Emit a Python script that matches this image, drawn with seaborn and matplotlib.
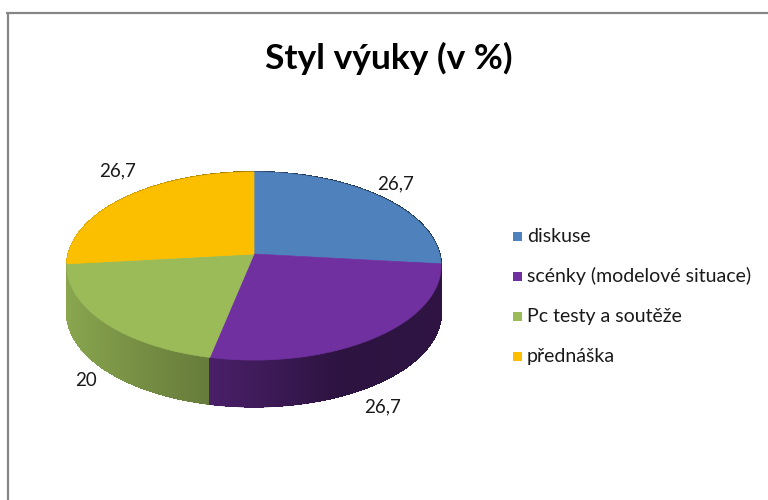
import numpy as np
import matplotlib
matplotlib.use("Agg")
import matplotlib.pyplot as plt
import seaborn as sns
from matplotlib.collections import PolyCollection
from matplotlib.patches import Polygon, Rectangle
from matplotlib.colors import to_rgb

# data
categories = ["diskuse", "scénky (modelové situace)", "Pc testy a soutěže", "přednáška"]
values = [26.7, 26.7, 20, 26.7]
value_labels = ["26,7", "26,7", "20", "26,7"]
colors = ["#4F81BD", "#7030A0", "#9BBB59", "#FCBF00"]
title = "Styl výuky (v %)"

sns.set_theme(style="white")
plt.rcParams["font.family"] = ["Lato", "DejaVu Sans"]

# pie geometry in pixel space
cx, cy = 254, 254
A, B, K = 185.5, 92.5, 0.128   # radii and perspective factor
depth = 47


def project(theta, r=1.0):
    # theta: clockwise angle from 12 o'clock, radians
    u = r * np.sin(theta)
    v = -r * np.cos(theta)
    den = 1 - K * v
    return cx + A * u / den, cy + B * v / den, u, v


def side_shade(u):
    return np.interp(u, [-1, -0.24, 0.4, 1], [0.9, 0.67, 0.4, 0.42])


fig = plt.figure(figsize=(7.68, 5.0), dpi=100)
ax = fig.add_axes([0, 0, 1, 1])
ax.set_xlim(0, 768)
ax.set_ylim(500, 0)
ax.axis("off")

# chart frame
ax.plot([6, 768], [12.5, 12.5], color="#868686", lw=1.6, solid_capstyle="butt")
ax.plot([7.5, 7.5], [12, 500], color="#868686", lw=1.6, solid_capstyle="butt")

fracs = np.array(values) / np.sum(values)
edges = np.concatenate([[0], np.cumsum(fracs)]) * 2 * np.pi

# sides: smooth underlay per slice, then gradient strips on top
slice_order = np.argsort([-np.cos((edges[i] + edges[i + 1]) / 2) for i in range(len(values))])
for i in slice_order:
    th = np.linspace(edges[i], edges[i + 1], 200)
    x, y, u, v = project(th)
    base = np.array(to_rgb(colors[i]))
    vis = v > -0.2
    um = u[vis].mean() if vis.any() else u.mean()
    top = list(zip(x, y))
    bot = list(zip(x[::-1], y[::-1] + depth))
    col = np.clip(base * side_shade(um), 0, 1)
    ax.add_patch(Polygon(top + bot, closed=True, facecolor=col, edgecolor=col, lw=0.5))

quads, qcols, qkeys = [], [], []
for i in range(len(values)):
    th = np.linspace(edges[i], edges[i + 1], 200)
    x, y, u, v = project(th)
    base = np.array(to_rgb(colors[i]))
    for j in range(len(th) - 1):
        q = [(x[j], y[j]), (x[j + 1], y[j + 1]),
             (x[j + 1], y[j + 1] + depth - 0.5), (x[j], y[j] + depth - 0.5)]
        quads.append(q)
        qcols.append(np.clip(base * side_shade((u[j] + u[j + 1]) / 2), 0, 1))
        qkeys.append((v[j] + v[j + 1]) / 2)
order = np.argsort(qkeys)
pc = PolyCollection([quads[k] for k in order], facecolors=[qcols[k] for k in order],
                    edgecolors=[qcols[k] for k in order], linewidths=0.8, antialiased=False)
ax.add_collection(pc)

# top faces
for i in range(len(values)):
    th = np.linspace(edges[i], edges[i + 1], 200)
    x, y, _, _ = project(th)
    pts = [(cx, cy)] + list(zip(x, y))
    ax.add_patch(Polygon(pts, closed=True, facecolor=colors[i], edgecolor=colors[i], lw=0.5))

# data labels
label_offsets = [(15, -13), (7, 22), (-17, 12), (-9, -26)]
for i in range(len(values)):
    mid = (edges[i] + edges[i + 1]) / 2
    x, y, u, v = project(mid)
    if v > K:
        y = y + depth
    dx, dy = label_offsets[i]
    ax.text(x + dx, y + dy, value_labels[i], ha="center", va="center",
            fontsize=13.5, color="#1a1a1a")

# legend
for i, name in enumerate(categories):
    ly = 236 + i * 40.3
    ax.add_patch(Rectangle((513, ly - 4.5), 9, 9, facecolor=colors[i], edgecolor="none"))
    ax.text(527, ly, name, ha="left", va="center", fontsize=14, color="#1a1a1a")

ax.text(389, 58, title, ha="center", va="center", fontsize=25.5, fontweight="bold", color="black")

fig.savefig("out.png", dpi=100)
